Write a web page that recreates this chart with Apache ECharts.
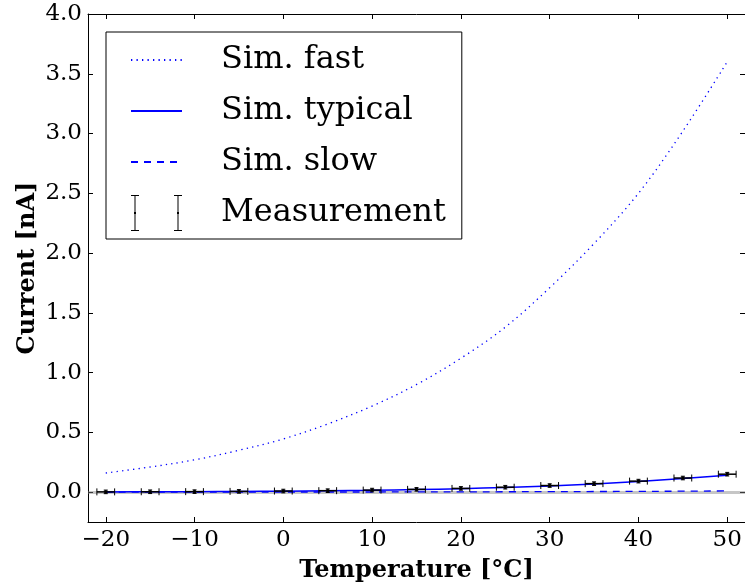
<!DOCTYPE html>
<html>
<head>
<meta charset="utf-8">
<script src="https://cdn.jsdelivr.net/npm/echarts@6/dist/echarts.min.js"></script>
<style>
html,body{margin:0;padding:0;background:#fff;}
#chart{width:745px;height:588px;}
</style>
</head>
<body>
<div id="chart"></div>
<script>
// ---- data ----
const temps = [-20, -15, -10, -5, 0, 5, 10, 15, 20, 25, 30, 35, 40, 45, 50];
const simFast = [0.16, 0.21, 0.27, 0.35, 0.445, 0.57, 0.72, 0.90, 1.12, 1.38, 1.71, 2.08, 2.50, 3.02, 3.60];
const simTypical = [0.002, 0.003, 0.004, 0.006, 0.008, 0.011, 0.015, 0.021, 0.029, 0.039, 0.052, 0.068, 0.089, 0.114, 0.142];
const simSlow = [0.000, 0.000, 0.000, 0.001, 0.001, 0.001, 0.001, 0.002, 0.002, 0.003, 0.004, 0.005, 0.006, 0.008, 0.010];
const measTemps = [-20, -15, -10, -5, 0, 5, 10, 15, 20, 25, 30, 35, 40, 45, 50];
const measCurrent = [0.002, 0.003, 0.004, 0.006, 0.009, 0.012, 0.017, 0.023, 0.031, 0.041, 0.055, 0.071, 0.092, 0.118, 0.150];
const measTempErr = [1, 1, 1, 1, 1, 1, 1, 1, 1, 1, 1, 1, 1, 1, 1];
const measCurrentErr = [0.015, 0.015, 0.015, 0.015, 0.015, 0.015, 0.015, 0.015, 0.015, 0.015, 0.015, 0.015, 0.015, 0.015, 0.015];
const xTicks = [-20, -10, 0, 10, 20, 30, 40, 50];
const yTicks = [0.0, 0.5, 1.0, 1.5, 2.0, 2.5, 3.0, 3.5, 4.0];
const seriesNames = ['Sim. fast', 'Sim. typical', 'Sim. slow', 'Measurement'];
const xTitle = 'Temperature [°C]';
const yTitle = 'Current [nA]';

const FONT = 'DejaVu Serif';
const BLUE = '#0000ff';

const pair = (xs, ys) => xs.map((x, i) => [x, ys[i]]);
const measData = measTemps.map((t, i) => [t, measCurrent[i], measTempErr[i], measCurrentErr[i]]);

const errIcon = 'path://' +
  'M3.5 0h1v36h-1z M0 0h8v1h-8z M0 35h8v1h-8z M3 17h2v2h-2z ' +
  'M46.5 0h1v36h-1z M43 0h8v1h-8z M43 35h8v1h-8z M46 17h2v2h-2z';

const chart = echarts.init(document.getElementById('chart'), null, {renderer: 'canvas'});

const axisLineStyle = {show: true, onZero: false, lineStyle: {color: '#000', width: 1}};
const tickInside = {show: true, inside: true, length: 5, lineStyle: {color: '#000', width: 1}};
const hideSymbol = {color: 'rgba(0,0,0,0)', borderWidth: 0, opacity: 0};

chart.setOption({
  animation: false,
  backgroundColor: '#fff',
  grid: {left: 88, top: 14, width: 658, height: 509, containLabel: false},
  legend: {
    orient: 'vertical',
    left: 106,
    top: 32,
    padding: [10, 16, 8, 24],
    itemGap: 15,
    itemWidth: 51,
    itemHeight: 36,
    backgroundColor: '#fff',
    borderColor: '#000',
    borderWidth: 1,
    borderRadius: 0,
    z: 10,
    textStyle: {fontFamily: FONT, fontSize: 32, color: '#000', padding: [0, 0, 0, 34], lineHeight: 36},
    data: [
      {name: seriesNames[0], itemStyle: hideSymbol},
      {name: seriesNames[1], itemStyle: hideSymbol},
      {name: seriesNames[2], itemStyle: hideSymbol},
      {name: seriesNames[3], icon: errIcon, itemStyle: {color: '#000'}}
    ]
  },
  xAxis: [{
    type: 'value', min: -22, max: 52, position: 'bottom',
    axisLine: axisLineStyle,
    axisTick: Object.assign({customValues: xTicks}, tickInside),
    axisLabel: {
      customValues: xTicks, margin: 7,
      fontFamily: FONT, fontSize: 23, color: '#000',
      formatter: v => (v < 0 ? '\u2212' + Math.abs(v) : String(v))
    },
    splitLine: {show: false},
    name: xTitle, nameLocation: 'middle', nameGap: 37, nameMoveOverlap: false,
    nameTextStyle: {fontFamily: FONT, fontSize: 24, fontWeight: 'bold', color: '#000'}
  }, {
    type: 'value', min: -22, max: 52, position: 'top',
    axisLine: axisLineStyle,
    axisTick: Object.assign({customValues: xTicks}, tickInside),
    axisLabel: {show: false},
    splitLine: {show: false}
  }],
  yAxis: [{
    type: 'value', min: -0.25, max: 4.0, position: 'left',
    axisLine: axisLineStyle,
    axisTick: Object.assign({customValues: yTicks}, tickInside),
    axisLabel: {
      customValues: yTicks, margin: 6,
      fontFamily: FONT, fontSize: 23, color: '#000',
      formatter: v => v.toFixed(1)
    },
    splitLine: {show: false},
    name: yTitle, nameLocation: 'middle', nameGap: 48, nameRotate: 90, nameMoveOverlap: false,
    nameTextStyle: {fontFamily: FONT, fontSize: 24, fontWeight: 'bold', color: '#000'}
  }, {
    type: 'value', min: -0.25, max: 4.0, position: 'right',
    axisLine: axisLineStyle,
    axisTick: Object.assign({customValues: yTicks}, tickInside),
    axisLabel: {show: false},
    splitLine: {show: false}
  }],
  series: [
    {
      name: seriesNames[0], type: 'line', data: pair(temps, simFast),
      smooth: 0.35, symbol: 'none', showSymbol: false,
      lineStyle: {color: BLUE, width: 1.3, type: [1.3, 4.2]},
      itemStyle: {color: BLUE}, z: 3
    },
    {
      name: seriesNames[1], type: 'line', data: pair(temps, simTypical),
      smooth: 0.35, symbol: 'none', showSymbol: false,
      lineStyle: {color: BLUE, width: 1.5, type: 'solid'},
      itemStyle: {color: BLUE}, z: 4
    },
    {
      name: seriesNames[2], type: 'line', data: pair(temps, simSlow),
      smooth: 0.35, symbol: 'none', showSymbol: false,
      lineStyle: {color: BLUE, width: 1.3, type: [7, 6]},
      itemStyle: {color: BLUE}, z: 3,
      markLine: {
        silent: true, symbol: 'none', label: {show: false},
        lineStyle: {color: 'rgba(128,128,128,0.45)', width: 3, type: 'solid'},
        data: [{yAxis: 0}], z: 1
      }
    },
    {
      name: seriesNames[3], type: 'custom', data: measData,
      itemStyle: {color: '#000'}, z: 5,
      encode: {x: 0, y: 1},
      renderItem: function (params, api) {
        const t = api.value(0), c = api.value(1), te = api.value(2), ce = api.value(3);
        const l = api.coord([t - te, c]);
        const r = api.coord([t + te, c]);
        const p = api.coord([t, c]);
        const top = api.coord([t, c + ce]);
        const bot = api.coord([t, c - ce]);
        const st = {stroke: '#000', lineWidth: 1};
        const capH = 3.5, capW = 2;
        return {
          type: 'group',
          children: [
            {type: 'line', shape: {x1: l[0], y1: l[1], x2: r[0], y2: r[1]}, style: Object.assign({}, st, {lineWidth: 1.5})},
            {type: 'line', shape: {x1: l[0], y1: l[1] - capH, x2: l[0], y2: l[1] + capH}, style: st},
            {type: 'line', shape: {x1: r[0], y1: r[1] - capH, x2: r[0], y2: r[1] + capH}, style: st},
            {type: 'line', shape: {x1: p[0], y1: top[1], x2: p[0], y2: bot[1]}, style: st},
            {type: 'line', shape: {x1: p[0] - capW, y1: top[1], x2: p[0] + capW, y2: top[1]}, style: st},
            {type: 'line', shape: {x1: p[0] - capW, y1: bot[1], x2: p[0] + capW, y2: bot[1]}, style: st},
            {type: 'rect', shape: {x: p[0] - 1.5, y: p[1] - 1.5, width: 3, height: 3}, style: {fill: '#000'}}
          ]
        };
      }
    }
  ]
});
</script>
</body>
</html>
